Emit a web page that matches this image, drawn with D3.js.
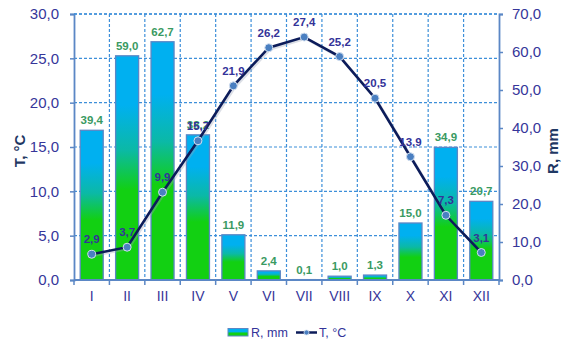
<!DOCTYPE html>
<html>
<head>
<meta charset="utf-8">
<script src="https://cdn.jsdelivr.net/npm/d3@7"></script>
<style>
  html, body { margin: 0; padding: 0; background: #fff; }
  svg { display: block; font-family: "Liberation Sans", Arial, sans-serif; }
</style>
</head>
<body>
<svg id="chart" width="565" height="347"></svg>
<script>
// Monthly climate: precipitation (bars, right axis) and temperature (line, left axis)
const months = ["I", "II", "III", "IV", "V", "VI", "VII", "VIII", "IX", "X", "XI", "XII"];
const rain = [39.4, 59.0, 62.7, 38.2, 11.9, 2.4, 0.1, 1.0, 1.3, 15.0, 34.9, 20.7];
const temp = [2.9, 3.7, 9.9, 15.7, 21.9, 26.2, 27.4, 25.2, 20.5, 13.9, 7.3, 3.1];
const tTicks = [0, 5, 10, 15, 20, 25, 30];
const rTicks = [0, 10, 20, 30, 40, 50, 60, 70];

const fmt = v => v.toFixed(1).replace(".", ",");

const svg = d3.select("#chart");
const plotL = 74, plotR = 499, plotT = 14, plotB = 280;

const x = d3.scaleBand().domain(months).range([plotL, plotR]).padding(0);
const yT = d3.scaleLinear().domain([0, 30]).range([plotB, plotT]);
const yR = d3.scaleLinear().domain([0, 70]).range([plotB, plotT]);

const axisColor = "#5b87c5";
const gridColor = "#3d8fd9";
const tickText = "#36369a";
const navy = "#0c1c5a";

// gradients for bars
const defs = svg.append("defs");
const g = defs.append("linearGradient").attr("id", "barGrad")
  .attr("x1", 0).attr("y1", 0).attr("x2", 0).attr("y2", 1);
g.append("stop").attr("offset", "0").attr("stop-color", "#00b0f0");
g.append("stop").attr("offset", "0.22").attr("stop-color", "#00b0f0");
g.append("stop").attr("offset", "0.42").attr("stop-color", "#0bb9a6");
g.append("stop").attr("offset", "0.6").attr("stop-color", "#12d012");
g.append("stop").attr("offset", "1").attr("stop-color", "#12d012");

// horizontal gridlines
svg.append("g").selectAll("line").data(tTicks.filter(d => d > 0)).join("line")
  .attr("x1", plotL).attr("x2", plotR)
  .attr("y1", d => yT(d)).attr("y2", d => yT(d))
  .attr("stroke", gridColor).attr("stroke-width", 1.2)
  .attr("stroke-dasharray", "3,2");

// vertical gridlines at month boundaries
svg.append("g").selectAll("line").data(months.slice(1)).join("line")
  .attr("x1", d => x(d)).attr("x2", d => x(d))
  .attr("y1", plotT).attr("y2", plotB)
  .attr("stroke", gridColor).attr("stroke-width", 1.2)
  .attr("stroke-dasharray", "3,2");

// bars
const bw = x.bandwidth() * 0.65;
svg.append("g").selectAll("rect").data(rain).join("rect")
  .attr("x", (d, i) => x(months[i]) + (x.bandwidth() - bw) / 2)
  .attr("y", d => yR(d))
  .attr("width", bw)
  .attr("height", d => plotB - yR(d))
  .attr("fill", "url(#barGrad)")
  .attr("stroke", "#5b87c5").attr("stroke-width", 1.3);

// bar value labels
svg.append("g").selectAll("text").data(rain).join("text")
  .attr("x", (d, i) => x(months[i]) + x.bandwidth() / 2)
  .attr("y", d => yR(d) - 6)
  .attr("text-anchor", "middle")
  .attr("font-size", 11.5).attr("font-weight", "bold")
  .attr("fill", "#3a9a62")
  .text(d => fmt(d));

// axes
const axL = svg.append("g").attr("transform", `translate(${plotL},0)`)
  .call(d3.axisLeft(yT).tickValues(tTicks).tickFormat(fmt).tickSize(4).tickPadding(11));
const axR = svg.append("g").attr("transform", `translate(${plotR},0)`)
  .call(d3.axisRight(yR).tickValues(rTicks).tickFormat(fmt).tickSize(4).tickPadding(9));
const axB = svg.append("g").attr("transform", `translate(0,${plotB})`)
  .call(d3.axisBottom(x).tickSize(0).tickPadding(11));
// month boundary ticks on the bottom axis
svg.append("g").selectAll("line").data(months.map(m => x(m)).concat([plotR])).join("line")
  .attr("x1", d => d).attr("x2", d => d)
  .attr("y1", plotB).attr("y2", plotB + 5)
  .attr("stroke", axisColor).attr("stroke-width", 1.5);

[axL, axR, axB].forEach(a => {
  a.select(".domain").attr("stroke", axisColor).attr("stroke-width", 1.8);
  a.selectAll(".tick line").attr("stroke", axisColor).attr("stroke-width", 1.5);
  a.selectAll(".tick text").attr("fill", tickText)
    .attr("font-family", "'Liberation Sans', Arial, sans-serif");
});
axL.selectAll(".tick text").attr("font-size", 15);
axR.selectAll(".tick text").attr("font-size", 15);
axB.selectAll(".tick text").attr("font-size", 14);
axB.select(".domain").attr("d", `M${plotL},0H${plotR}`);

// top boundary gridline
svg.append("line").attr("x1", plotL).attr("x2", plotR).attr("y1", plotT).attr("y2", plotT)
  .attr("stroke", gridColor).attr("stroke-width", 1.4).attr("stroke-dasharray", "3,2");

// temperature line
const cx = i => x(months[i]) + x.bandwidth() / 2;
const line = d3.line().x((d, i) => cx(i)).y(d => yT(d));
svg.append("path").datum(temp)
  .attr("d", line).attr("fill", "none")
  .attr("stroke", "#9aa3b8").attr("stroke-width", 2.5).attr("opacity", 0.35)
  .attr("transform", "translate(1.5,1.5)");
svg.append("path").datum(temp)
  .attr("d", line).attr("fill", "none")
  .attr("stroke", navy).attr("stroke-width", 2.6);
svg.append("g").selectAll("circle").data(temp).join("circle")
  .attr("cx", (d, i) => cx(i)).attr("cy", d => yT(d)).attr("r", 4)
  .attr("fill", "#4a7fc1").attr("stroke", "#d4e0f0").attr("stroke-width", 1);

// temperature labels
svg.append("g").selectAll("text").data(temp).join("text")
  .attr("x", (d, i) => cx(i))
  .attr("y", d => yT(d) - 11)
  .attr("text-anchor", "middle")
  .attr("font-size", 11.5).attr("font-weight", "bold")
  .attr("fill", "#333399")
  .text(d => fmt(d));

// axis titles
svg.append("text")
  .attr("transform", "translate(25,151) rotate(-90)")
  .attr("text-anchor", "middle")
  .attr("font-size", 15).attr("font-weight", "bold").attr("fill", "#1f3864")
  .text("T, °C");
svg.append("text")
  .attr("transform", "translate(558,151) rotate(-90)")
  .attr("text-anchor", "middle")
  .attr("font-size", 15).attr("font-weight", "bold").attr("fill", "#1f3864")
  .text("R, mm");

// legend
const lg = svg.append("g");
const lgGrad = defs.append("linearGradient").attr("id", "legGrad")
  .attr("x1", 0).attr("y1", 0).attr("x2", 0).attr("y2", 1);
lgGrad.append("stop").attr("offset", "0").attr("stop-color", "#00b0f0");
lgGrad.append("stop").attr("offset", "0.45").attr("stop-color", "#00b0f0");
lgGrad.append("stop").attr("offset", "0.6").attr("stop-color", "#12d012");
lgGrad.append("stop").attr("offset", "1").attr("stop-color", "#12d012");
lg.append("rect").attr("x", 228).attr("y", 328.5).attr("width", 20).attr("height", 7.5)
  .attr("fill", "url(#legGrad)").attr("stroke", "#5b87c5").attr("stroke-width", 1);
lg.append("text").attr("x", 251).attr("y", 337).attr("font-size", 12.5)
  .attr("fill", "#333399").text("R, mm");
lg.append("line").attr("x1", 296).attr("x2", 317).attr("y1", 332.5).attr("y2", 332.5)
  .attr("stroke", navy).attr("stroke-width", 2.5);
lg.append("circle").attr("cx", 306.5).attr("cy", 332.5).attr("r", 2.5)
  .attr("fill", "#4a7fc1").attr("stroke", "#d4e0f0").attr("stroke-width", 0.8);
lg.append("text").attr("x", 319).attr("y", 337).attr("font-size", 12.5)
  .attr("fill", "#333399").text("T, °C");
</script>
</body>
</html>
